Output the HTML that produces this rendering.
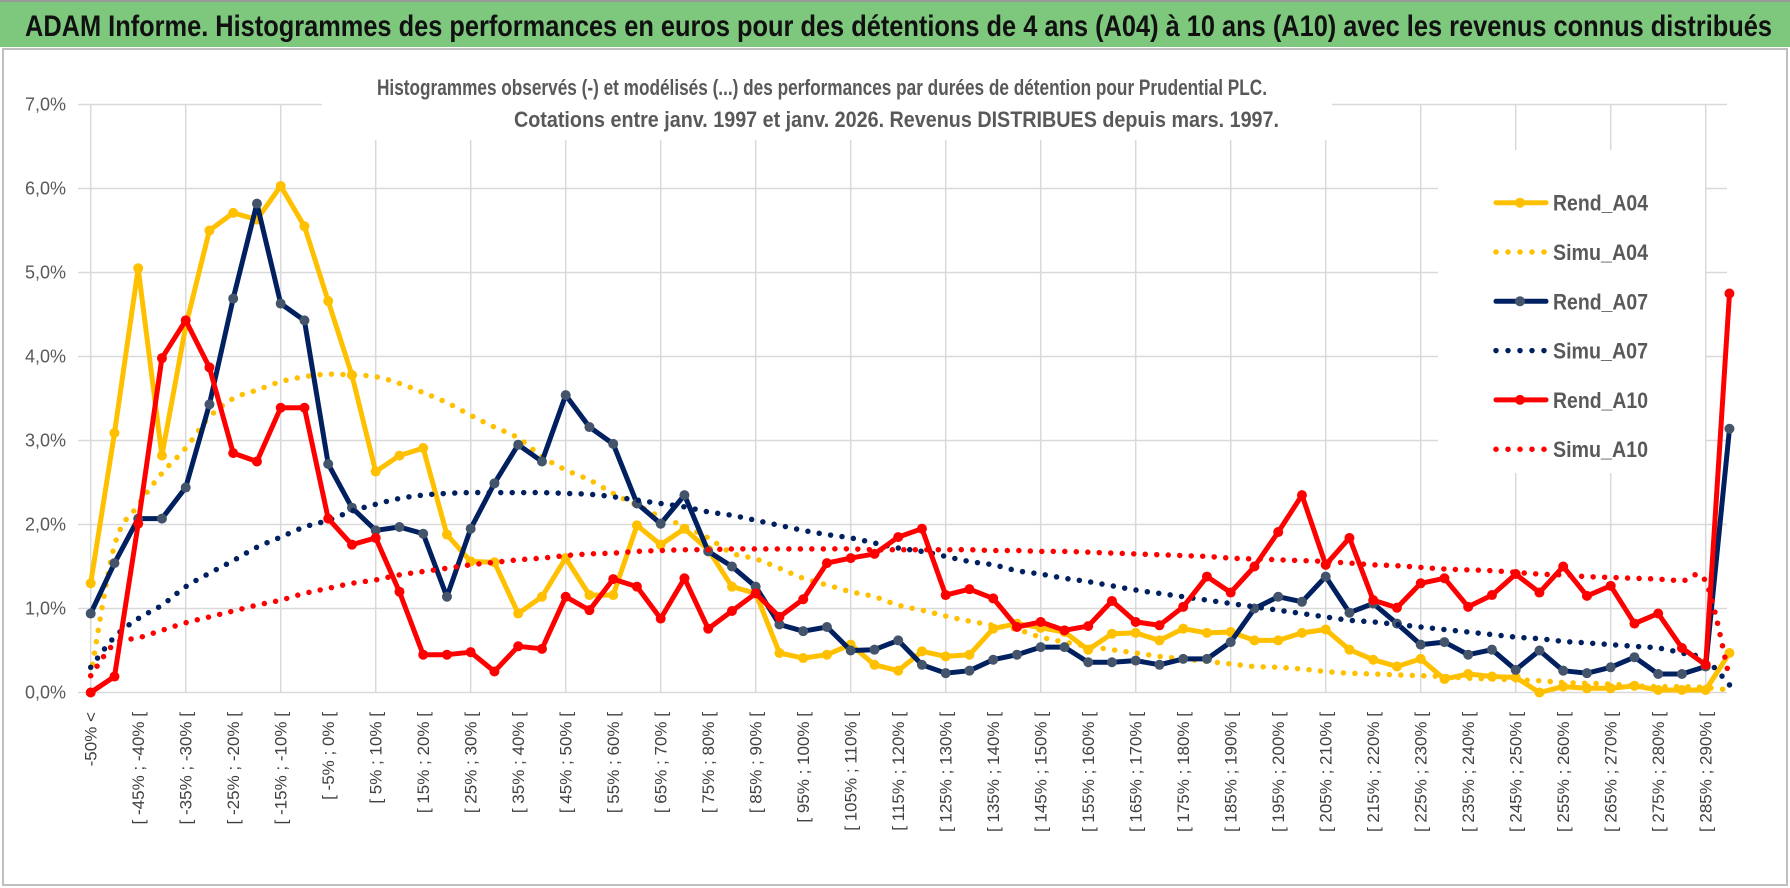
<!DOCTYPE html>
<html><head><meta charset="utf-8">
<style>
html,body{margin:0;padding:0;background:#fff;}
svg{display:block;font-family:"Liberation Sans",sans-serif;}
</style></head>
<body>
<svg id="chart" width="1790" height="888" viewBox="0 0 1790 888" xmlns="http://www.w3.org/2000/svg">
  <rect x="0" y="0" width="1790" height="47" fill="#7ec87e"/>
  <line x1="0" y1="1" x2="1790" y2="1" stroke="#9a9a9a" stroke-width="2"/>
  <text x="25" y="36" font-size="30" font-weight="bold" fill="#111" textLength="1747" lengthAdjust="spacingAndGlyphs">ADAM Informe. Histogrammes des performances en euros pour des détentions de 4 ans (A04) à 10 ans (A10) avec les revenus connus distribués</text>
  <rect x="3" y="49" width="1784" height="836" fill="#fff" stroke="#bfbfbf" stroke-width="2"/>
  <g id="grid"></g>
  <rect x="322" y="60" width="1010" height="80" fill="#fff"/>
  <rect x="1438" y="150" width="267" height="323" fill="#fff"/>
  <text x="377" y="95" font-size="22" font-weight="bold" fill="#595959" textLength="890" lengthAdjust="spacingAndGlyphs">Histogrammes observés (-)  et modélisés (...) des performances par durées de détention pour Prudential PLC.</text>
  <text x="514" y="127" font-size="22" font-weight="bold" fill="#595959" textLength="765" lengthAdjust="spacingAndGlyphs">Cotations entre janv. 1997 et janv. 2026. Revenus DISTRIBUES depuis mars. 1997.</text>
  <g id="yaxis"></g>
  <g id="xaxis"></g>
  <g id="series"></g>
  <g id="legend"></g>
</svg>
<script>
const categories = ["-50% <","[ -50% ; -45% [","[ -45% ; -40% [","[ -40% ; -35% [","[ -35% ; -30% [","[ -30% ; -25% [","[ -25% ; -20% [","[ -20% ; -15% [","[ -15% ; -10% [","[ -10% ; -5% [","[ -5% ; 0% [","[ 0% ; 5% [","[ 5% ; 10% [","[ 10% ; 15% [","[ 15% ; 20% [","[ 20% ; 25% [","[ 25% ; 30% [","[ 30% ; 35% [","[ 35% ; 40% [","[ 40% ; 45% [","[ 45% ; 50% [","[ 50% ; 55% [","[ 55% ; 60% [","[ 60% ; 65% [","[ 65% ; 70% [","[ 70% ; 75% [","[ 75% ; 80% [","[ 80% ; 85% [","[ 85% ; 90% [","[ 90% ; 95% [","[ 95% ; 100% [","[ 100% ; 105% [","[ 105% ; 110% [","[ 110% ; 115% [","[ 115% ; 120% [","[ 120% ; 125% [","[ 125% ; 130% [","[ 130% ; 135% [","[ 135% ; 140% [","[ 140% ; 145% [","[ 145% ; 150% [","[ 150% ; 155% [","[ 155% ; 160% [","[ 160% ; 165% [","[ 165% ; 170% [","[ 170% ; 175% [","[ 175% ; 180% [","[ 180% ; 185% [","[ 185% ; 190% [","[ 190% ; 195% [","[ 195% ; 200% [","[ 200% ; 205% [","[ 205% ; 210% [","[ 210% ; 215% [","[ 215% ; 220% [","[ 220% ; 225% [","[ 225% ; 230% [","[ 230% ; 235% [","[ 235% ; 240% [","[ 240% ; 245% [","[ 245% ; 250% [","[ 250% ; 255% [","[ 255% ; 260% [","[ 260% ; 265% [","[ 265% ; 270% [","[ 270% ; 275% [","[ 275% ; 280% [","[ 280% ; 285% [","[ 285% ; 290% [","[ 290% ; 295% ["];
const rendA04 = [1.30,3.09,5.05,2.82,4.36,5.50,5.71,5.63,6.03,5.55,4.66,3.78,2.63,2.82,2.91,1.88,1.56,1.55,0.94,1.14,1.60,1.16,1.16,1.99,1.76,1.95,1.70,1.26,1.18,0.47,0.41,0.45,0.57,0.33,0.26,0.49,0.43,0.45,0.76,0.82,0.77,0.72,0.51,0.70,0.71,0.62,0.76,0.71,0.72,0.62,0.62,0.71,0.75,0.51,0.39,0.31,0.40,0.16,0.22,0.19,0.18,0.00,0.07,0.05,0.05,0.08,0.03,0.03,0.03,0.47];
const simuA04 = [0.20,1.75,2.23,2.61,2.91,3.28,3.50,3.60,3.70,3.76,3.79,3.78,3.76,3.68,3.57,3.45,3.30,3.16,3.03,2.81,2.65,2.53,2.37,2.23,2.09,1.98,1.84,1.66,1.59,1.48,1.36,1.28,1.20,1.14,1.04,0.98,0.91,0.85,0.80,0.75,0.66,0.60,0.55,0.51,0.47,0.43,0.40,0.37,0.34,0.31,0.30,0.28,0.25,0.23,0.22,0.21,0.20,0.19,0.17,0.16,0.15,0.14,0.12,0.11,0.10,0.08,0.07,0.07,0.06,0.03];
const rendA07 = [0.94,1.54,2.07,2.07,2.44,3.43,4.69,5.82,4.63,4.43,2.72,2.20,1.93,1.97,1.89,1.14,1.95,2.49,2.95,2.75,3.54,3.16,2.96,2.25,2.01,2.35,1.68,1.50,1.26,0.81,0.73,0.78,0.50,0.51,0.62,0.33,0.23,0.26,0.39,0.45,0.54,0.54,0.36,0.36,0.38,0.33,0.40,0.40,0.60,1.00,1.14,1.08,1.38,0.95,1.06,0.82,0.57,0.60,0.45,0.51,0.27,0.50,0.26,0.23,0.30,0.42,0.22,0.22,0.31,3.14];
const simuA07 = [0.30,0.66,0.88,1.04,1.26,1.42,1.57,1.73,1.85,1.97,2.05,2.16,2.24,2.31,2.35,2.37,2.38,2.38,2.38,2.38,2.37,2.36,2.33,2.29,2.25,2.21,2.15,2.11,2.05,1.99,1.93,1.88,1.84,1.78,1.72,1.68,1.62,1.56,1.52,1.45,1.41,1.36,1.32,1.27,1.22,1.18,1.14,1.10,1.06,1.02,0.98,0.94,0.90,0.86,0.84,0.81,0.78,0.75,0.72,0.69,0.66,0.64,0.61,0.59,0.57,0.55,0.53,0.47,0.39,0.09];
const rendA10 = [0.00,0.19,2.01,3.98,4.43,3.87,2.85,2.75,3.39,3.39,2.07,1.76,1.84,1.20,0.45,0.45,0.48,0.25,0.55,0.52,1.14,0.98,1.35,1.26,0.88,1.36,0.76,0.97,1.18,0.90,1.11,1.54,1.60,1.65,1.85,1.95,1.16,1.23,1.12,0.78,0.84,0.74,0.79,1.09,0.84,0.80,1.02,1.38,1.19,1.50,1.91,2.35,1.52,1.84,1.10,1.01,1.30,1.36,1.02,1.16,1.41,1.19,1.50,1.15,1.27,0.82,0.94,0.53,0.33,4.75];
const simuA10 = [0.20,0.58,0.65,0.74,0.83,0.90,0.97,1.04,1.10,1.18,1.24,1.30,1.34,1.40,1.44,1.48,1.52,1.55,1.58,1.60,1.63,1.65,1.66,1.68,1.69,1.70,1.70,1.71,1.71,1.71,1.71,1.71,1.71,1.70,1.70,1.70,1.70,1.70,1.69,1.69,1.68,1.68,1.67,1.66,1.65,1.64,1.63,1.62,1.60,1.59,1.58,1.57,1.56,1.54,1.52,1.51,1.49,1.47,1.46,1.45,1.43,1.41,1.40,1.38,1.37,1.36,1.35,1.33,1.32,0.17];
const yTicks = [0,1,2,3,4,5,6,7];
const yTickLabels = ["0,0%","1,0%","2,0%","3,0%","4,0%","5,0%","6,0%","7,0%"];
const seriesNames = ["Rend_A04","Simu_A04","Rend_A07","Simu_A07","Rend_A10","Simu_A10"];

const NS = "http://www.w3.org/2000/svg";
const X0 = 90.7, DX = 23.75, Y0 = 692.5, DY = 84;
function xScale(i){ return X0 + DX * i; }
function yScale(v){ return Y0 - DY * v; }
function mk(tag, attrs, parent){
  const e = document.createElementNS(NS, tag);
  for (const k in attrs) e.setAttribute(k, attrs[k]);
  parent.appendChild(e);
  return e;
}
const grid = document.getElementById('grid');
const yaxis = document.getElementById('yaxis');
const xaxis = document.getElementById('xaxis');
const series = document.getElementById('series');
const legend = document.getElementById('legend');

yTicks.forEach((t, k) => {
  const gl = mk('line', {x1: 78, x2: 1727, y1: yScale(t), y2: yScale(t), stroke: '#d9d9d9', 'stroke-width': 1.5}, grid);
  
  
  const tl = mk('text', {x: 66, y: yScale(t) + 6, 'text-anchor': 'end', 'font-size': 18, fill: '#595959'}, yaxis);
  tl.textContent = yTickLabels[k];
  
  
});
for (let i = 0; i < categories.length; i += 4) {
  const vl = mk('line', {x1: xScale(i), x2: xScale(i), y1: yScale(7), y2: yScale(0), stroke: '#d9d9d9', 'stroke-width': 1.5}, grid);
  
  
}
categories.forEach((c, i) => {
  if (i % 2 !== 0) return;
  const x = xScale(i) + 6;
  const t = mk('text', {x: x, y: 712, 'text-anchor': 'end', 'font-size': 17, fill: '#404040', transform: 'rotate(-90 ' + x + ' 712)'}, xaxis);
  t.textContent = c;
  
  
});

function pathD(vals){
  return vals.map((v, i) => (i ? 'L' : 'M') + xScale(i).toFixed(1) + ' ' + yScale(v).toFixed(1)).join(' ');
}
function smoothD(vals){
  const p = vals.map((v, i) => [xScale(i), yScale(v)]);
  let d = 'M' + p[0][0].toFixed(1) + ' ' + p[0][1].toFixed(1);
  for (let i = 0; i < p.length - 1; i++) {
    const p0 = p[Math.max(0, i - 1)], p1 = p[i], p2 = p[i + 1], p3 = p[Math.min(p.length - 1, i + 2)];
    const c1 = [p1[0] + (p2[0] - p0[0]) / 6, p1[1] + (p2[1] - p0[1]) / 6];
    const c2 = [p2[0] - (p3[0] - p1[0]) / 6, p2[1] - (p3[1] - p1[1]) / 6];
    d += ' C' + c1[0].toFixed(1) + ' ' + c1[1].toFixed(1) + ' ' + c2[0].toFixed(1) + ' ' + c2[1].toFixed(1) + ' ' + p2[0].toFixed(1) + ' ' + p2[1].toFixed(1);
  }
  return d;
}
function drawRend(vals, color, marker, name){
  const g = mk('g', {}, series);
  
  
  mk('path', {d: pathD(vals), fill: 'none', stroke: color, 'stroke-width': 5, 'stroke-linejoin': 'round'}, g);
  vals.forEach((v, i) => {
    const c = mk('circle', {cx: xScale(i), cy: yScale(v), r: 5, fill: marker}, g);
    
    
  });
}
function drawSimu(vals, color, name){
  const p = mk('path', {d: smoothD(vals), fill: 'none', stroke: color, 'stroke-width': 5.5, 'stroke-linecap': 'round', 'stroke-dasharray': '0 11.5'}, series);
  
  
}
drawRend(rendA04, '#ffc000', '#ffc000', 'rend-a04-line');
drawSimu(simuA04, '#ffc000', 'simu-a04-line');
drawRend(rendA07, '#002060', '#44546a', 'rend-a07-line');
drawSimu(simuA07, '#002060', 'simu-a07-line');
drawRend(rendA10, '#ff0000', '#ff0000', 'rend-a10-line');
drawSimu(simuA10, '#ff0000', 'simu-a10-line');

const legendColors = ['#ffc000','#ffc000','#002060','#002060','#ff0000','#ff0000'];
const legendMarkers = ['#ffc000',null,'#44546a',null,'#ff0000',null];
seriesNames.forEach((n, k) => {
  const cy = 202.7 + k * 49.3;
  const g = mk('g', {}, legend);
  
  
  if (legendMarkers[k]) {
    mk('line', {x1: 1496, x2: 1546, y1: cy, y2: cy, stroke: legendColors[k], 'stroke-width': 5, 'stroke-linecap': 'round'}, g);
    mk('circle', {cx: 1520, cy: cy, r: 5, fill: legendMarkers[k]}, g);
  } else {
    mk('line', {x1: 1496, x2: 1546, y1: cy, y2: cy, stroke: legendColors[k], 'stroke-width': 5.5, 'stroke-linecap': 'round', 'stroke-dasharray': '0 12'}, g);
  }
  const t = mk('text', {x: 1553, y: cy + 8, 'font-size': 22, 'font-weight': 'bold', fill: '#595959', textLength: 95, lengthAdjust: 'spacingAndGlyphs'}, g);
  t.textContent = n;
});
</script>
</body></html>
